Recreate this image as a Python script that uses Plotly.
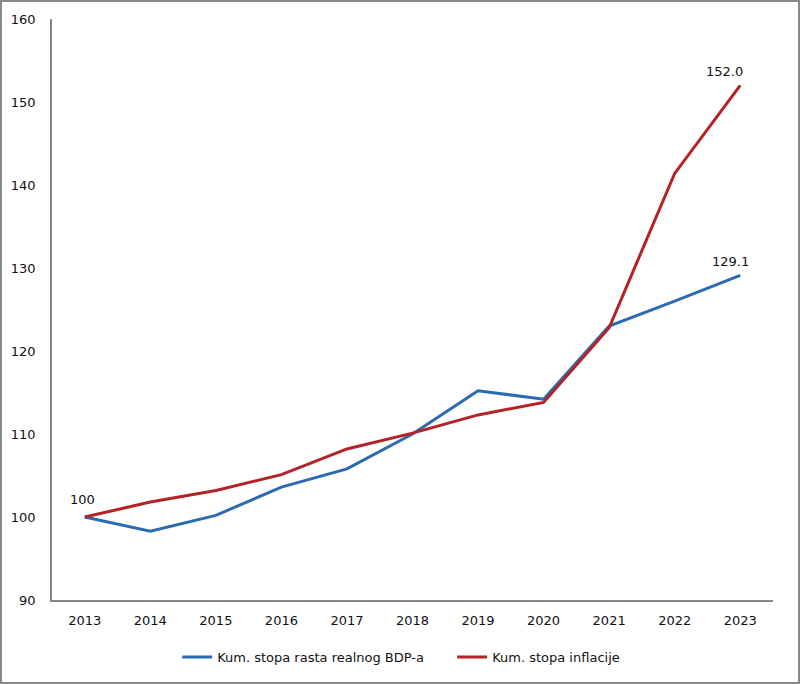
import plotly.graph_objects as go

years = ["2013", "2014", "2015", "2016", "2017", "2018", "2019", "2020", "2021", "2022", "2023"]
gdp = [100, 98.3, 100.2, 103.6, 105.8, 110.0, 115.2, 114.2, 123.0, 126.0, 129.1]
infl = [100, 101.8, 103.2, 105.1, 108.2, 110.1, 112.3, 113.8, 122.8, 141.4, 152.0]
gdp_name = "Kum. stopa rasta realnog BDP-a"
infl_name = "Kum. stopa inflacije"
y_ticks = [90, 100, 110, 120, 130, 140, 150, 160]

BLUE = "#2C6AB1"
RED = "#B52226"
FONT = "DejaVu Sans"
FS = 13

fig = go.Figure()
fig.add_trace(go.Scatter(x=years, y=gdp, name=gdp_name, mode="lines",
                         line=dict(color=BLUE, width=3)))
fig.add_trace(go.Scatter(x=years, y=infl, name=infl_name, mode="lines",
                         line=dict(color=RED, width=3)))

last = len(years) - 1
annots = [
    (0, gdp[0], "100", -2, 18),
    (last, infl[-1], f"{infl[-1]:.1f}", -16, 14),
    (last, gdp[-1], f"{gdp[-1]:.1f}", -10, 14),
]
for x, y, t, xs, ys in annots:
    fig.add_annotation(x=x, y=y, xref="x", yref="y", text=t, showarrow=False,
                       xshift=xs, yshift=ys,
                       font=dict(family=FONT, size=FS, color="#111"))

L, R, T, B = 52, 27, 19, 84
W, H = 800, 684
pw, ph = W - L - R, H - T - B
fig.add_shape(type="rect", xref="paper", yref="paper",
              x0=(1 - L) / pw, x1=(W - 1 - L) / pw,
              y0=-(B - 1) / ph, y1=1 + (T - 1) / ph,
              line=dict(color="#8a8a8a", width=2), layer="below")

fig.update_layout(
    width=W, height=H,
    margin=dict(l=L, r=R, t=T, b=B),
    paper_bgcolor="white", plot_bgcolor="white",
    font=dict(family=FONT, size=FS, color="#111"),
    showlegend=True,
    legend=dict(orientation="h", x=0.555, xanchor="center", y=-0.098, yanchor="middle",
                font=dict(family=FONT, size=FS, color="#111"),
                itemwidth=30, tracegroupgap=0, entrywidth=230),
    xaxis=dict(type="category", range=[-0.5, 10.5], showgrid=False, zeroline=False,
               showline=True, linecolor="#868686", linewidth=1.5, ticks="",
               ticklabelstandoff=8, tickfont=dict(family=FONT, size=FS, color="#111")),
    yaxis=dict(range=[90, 160], tickvals=y_ticks, showgrid=False, zeroline=False,
               showline=True, linecolor="#868686", linewidth=1.5, ticks="",
               ticklabelstandoff=12, tickfont=dict(family=FONT, size=FS, color="#111")),
)

fig.write_html("out.html")
